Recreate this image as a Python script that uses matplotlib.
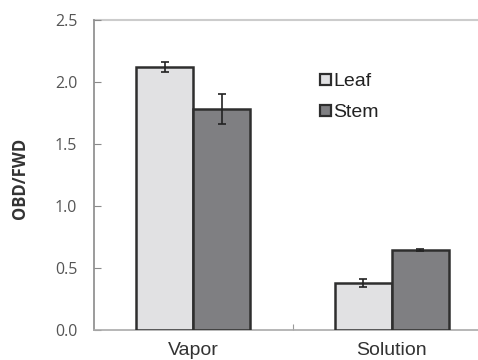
import matplotlib
matplotlib.use("Agg")
import matplotlib.pyplot as plt
import numpy as np
from matplotlib.patches import Rectangle

categories = ["Vapor", "Solution"]
leaf = [2.12, 0.38]
leaf_err = [0.04, 0.035]
stem = [1.78, 0.645]
stem_err = [0.12, 0.006]
yticks = [0.0, 0.5, 1.0, 1.5, 2.0, 2.5]

W, H = 478, 360
fig = plt.figure(figsize=(W/100, H/100), dpi=100)
left, right, bottom, top = 94, 491, 330, 20
ax = fig.add_axes([left/W, 1-bottom/H, (right-left)/W, (bottom-top)/H])

x = np.arange(len(categories))
bw = 0.286
leaf_c = "#e1e1e3"
stem_c = "#7f7f82"
edge = "#2e2e2e"
ax.bar(x - bw/2, leaf, bw, color=leaf_c, edgecolor=edge, linewidth=1.8, zorder=3)
ax.bar(x + bw/2, stem, bw, color=stem_c, edgecolor=edge, linewidth=1.8, zorder=3)
ax.errorbar(x - bw/2, leaf, yerr=leaf_err, fmt="none", ecolor="#222222", elinewidth=1.2, capsize=3, capthick=1.2, zorder=4)
ax.errorbar(x + bw/2, stem, yerr=stem_err, fmt="none", ecolor="#222222", elinewidth=1.2, capsize=3, capthick=1.2, zorder=4)

ax.set_xlim(-0.5, 1.5)
ax.set_ylim(0, 2.5)
ax.axhline(2.5, color="#cccccc", linewidth=1.5, zorder=1, clip_on=False)

for s in ["top", "right"]:
    ax.spines[s].set_visible(False)
ax.spines["left"].set_color("#8a8a8a")
ax.spines["bottom"].set_color("#aaaaaa")
ax.spines["left"].set_linewidth(1.2)
ax.spines["bottom"].set_linewidth(1.2)

ax.set_yticks(yticks)
ax.set_yticklabels([f"{v:.1f}" for v in yticks])
ax.tick_params(axis="y", direction="in", length=5, color="#8a8a8a", labelsize=11.5,
               labelcolor="#555555", pad=12)
ax.set_xticks([0.5], minor=False)
ax.set_xticklabels([""])
ax.tick_params(axis="x", direction="in", length=4, color="#999999")
for lbl in ax.get_yticklabels():
    lbl.set_family("Open Sans")

# category labels placed under each group
for xi, c in zip(x, categories):
    ax.annotate(c, xy=(xi, 0), xycoords="data", xytext=(0, -(355-330)), textcoords="offset pixels",
                ha="center", va="baseline", fontsize=14, color="#333333",
                family="Liberation Sans", annotation_clip=False)

fig.text(19.5/W, 1-178/H, "OBD/FWD", rotation=90, ha="center", va="center",
         fontsize=12, fontweight="bold", color="#333333", family="Open Sans")

# legend
for (yy, col, name) in [(79, leaf_c, "Leaf"), (110, stem_c, "Stem")]:
    fig.patches.append(Rectangle((320/W, 1-(yy+5.5)/H), 11/W, 11/H, transform=fig.transFigure,
                                 facecolor=col, edgecolor=edge, linewidth=1.6))
    fig.text(333/W, 1-(yy+7)/H, name, ha="left", va="baseline", fontsize=14, color="#222222",
             family="Liberation Sans")

fig.savefig("out.png", dpi=100)
